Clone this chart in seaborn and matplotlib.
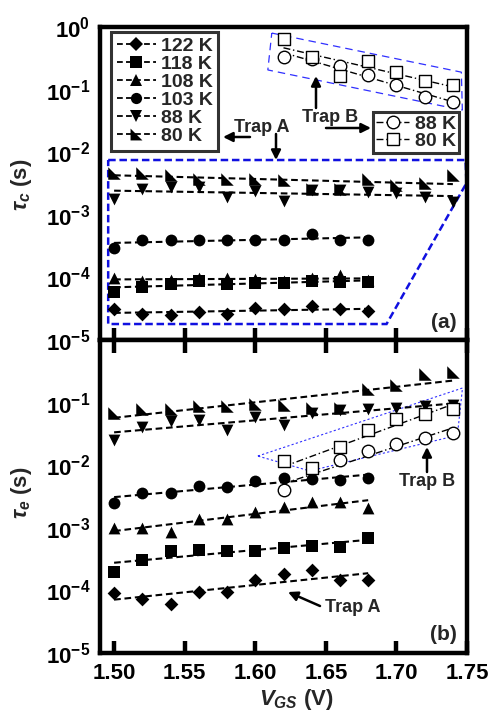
import numpy as np
import pandas as pd
import seaborn as sns
import matplotlib
matplotlib.use("Agg")
import matplotlib.pyplot as plt
from matplotlib.lines import Line2D
from matplotlib.patches import Polygon
from matplotlib.markers import MarkerStyle
from matplotlib.ticker import FixedLocator, NullLocator
from matplotlib.font_manager import FontProperties

# ---------------- data ----------------
vgs_short = [1.50, 1.52, 1.54, 1.56, 1.58, 1.60, 1.62, 1.64, 1.66, 1.68]
vgs_long = [1.50, 1.52, 1.54, 1.56, 1.58, 1.60, 1.62, 1.64, 1.66, 1.68, 1.70, 1.72, 1.74]
vgs_trapb = [1.62, 1.64, 1.66, 1.68, 1.70, 1.72, 1.74]
vgs_trapb_e88 = [1.62, 1.66, 1.68, 1.70, 1.72, 1.74]

# (a) capture time constants, trap A
tc_122 = [3.1e-5, 2.6e-5, 2.5e-5, 2.8e-5, 2.6e-5, 3.2e-5, 3.1e-5, 3.45e-5, 3.1e-5, 2.9e-5]
tc_118 = [5.9e-5, 7.1e-5, 7.8e-5, 8.9e-5, 7.8e-5, 8.2e-5, 8.2e-5, 8.7e-5, 8.5e-5, 8.3e-5]
tc_108 = [9.8e-5, 8.9e-5, 9.0e-5, 9.7e-5, 9.7e-5, 9.4e-5, 8.7e-5, 9.7e-5, 1.09e-4, 9.0e-5]
tc_103 = [2.9e-4, 3.96e-4, 4.0e-4, 4.0e-4, 4.0e-4, 4.0e-4, 4.0e-4, 4.9e-4, 4.0e-4, 3.9e-4]
tc_88 = [1.8e-3, 2.6e-3, 2.8e-3, 2.8e-3, 1.9e-3, 2.4e-3, 1.66e-3, 2.5e-3, 2.5e-3, 2.3e-3, 2.25e-3, 1.95e-3, 1.6e-3]
tc_80 = [4.7e-3, 4.6e-3, 4.3e-3, 3.8e-3, 3.8e-3, 3.8e-3, 3.6e-3, 2.6e-3, 2.6e-3, 3.8e-3, 3.0e-3, 3.2e-3, 4.3e-3]
# (a) trap B
tc_b88 = [0.33, 0.31, 0.24, 0.17, 0.117, 0.077, 0.064]
tc_b80 = [0.64, 0.33, 0.165, 0.29, 0.19, 0.138, 0.117]

# (b) emission time constants, trap A
te_122 = [9.2e-5, 7.2e-5, 6.0e-5, 9.5e-5, 9.5e-5, 1.47e-4, 1.8e-4, 2.1e-4, 1.47e-4, 1.47e-4]
te_118 = [1.99e-4, 3.06e-4, 4.3e-4, 4.5e-4, 4.3e-4, 4.3e-4, 4.7e-4, 5.1e-4, 5.0e-4, 6.8e-4]
te_108 = [9.8e-4, 9.8e-4, 8.7e-4, 1.36e-3, 1.4e-3, 1.8e-3, 2.17e-3, 2.6e-3, 2.6e-3, 2.1e-3]
te_103 = [2.46e-3, 3.64e-3, 3.6e-3, 4.7e-3, 4.5e-3, 5.5e-3, 6.2e-3, 6.0e-3, 5.7e-3, 6.3e-3]
te_88 = [0.0253, 0.041, 0.050, 0.053, 0.037, 0.058, 0.044, 0.067, 0.076, 0.078, 0.081, 0.088, 0.09]
te_80 = [0.067, 0.078, 0.078, 0.088, 0.087, 0.095, 0.092, 0.083, 0.083, 0.163, 0.19, 0.286, 0.305]
# (b) trap B
te_b88 = [0.0040, 0.0121, 0.0169, 0.0218, 0.0269, 0.033]
te_b80 = [0.0117, 0.0089, 0.0198, 0.037, 0.054, 0.066, 0.078]

labels_a = ["122 K", "118 K", "108 K", "103 K", "88 K", "80 K"]
labels_b = ["88 K", "80 K"]
ytick_vals = [1e-5, 1e-4, 1e-3, 1e-2, 1e-1, 1e0]
xtick_vals = [1.50, 1.55, 1.60, 1.65, 1.70, 1.75]
xtick_labels = ["1.50", "1.55", "1.60", "1.65", "1.70", "1.75"]

# ---------------- style ----------------
sns.set_theme(style="white")
plt.rcParams.update({
    "font.family": ["Liberation Sans", "DejaVu Sans"],
    "font.weight": "bold",
    "mathtext.fontset": "custom",
    "mathtext.rm": "Liberation Sans:bold",
    "mathtext.bf": "Liberation Sans:bold",
    "mathtext.it": "Liberation Sans:italic:bold",
    "axes.linewidth": 3.2,
    "axes.edgecolor": "black",
})

W, H = 493, 719
fig = plt.figure(figsize=(W / 100, H / 100), dpi=100)


def fx(px):
    return px / W


def fy(py):
    return 1 - py / H


left, right = 100, 467
ax_a = fig.add_axes([fx(left), fy(340), fx(right) - fx(left), fy(27) - fy(340)])
ax_b = fig.add_axes([fx(left), fy(653), fx(right) - fx(left), fy(340) - fy(653)])

tri_path = MarkerStyle([(-1, 1), (-1, -1), (1, -1), (-1, 1)])
mk = {"122 K": "D", "118 K": "s", "108 K": "^", "103 K": "o", "88 K": "v", "80 K": tri_path}
msz = {"122 K": 7, "118 K": 8.5, "108 K": 8.5, "103 K": 8.5, "88 K": 8.5, "80 K": 9}
dash = (0, (3.2, 1.8))
dashdot = (0, (5, 2, 1, 2))


def fit_line(ax, x, y, ls, lw):
    p = np.polyfit(np.array(x), np.log10(np.array(y)), 1)
    xx = np.array([x[0], x[-1]])
    yy = 10 ** np.polyval(p, xx)
    sns.lineplot(x=xx, y=yy, ax=ax, color="black", lw=lw, linestyle=ls, zorder=2,
                 estimator=None, sort=False)


def filled(ax, x, y, key):
    sns.scatterplot(x=x, y=y, ax=ax, marker=mk[key], s=msz[key] ** 2, color="black",
                    edgecolor="black", linewidth=0, zorder=4, legend=False)


def opened(ax, x, y, marker):
    sns.scatterplot(x=x, y=y, ax=ax, marker=marker, s=9 ** 2, facecolor="white",
                    edgecolor="black", linewidth=1.0, zorder=5, legend=False)


for ax in (ax_a, ax_b):
    ax.set_yscale("log")

series_a = [(vgs_short, tc_122, "122 K"), (vgs_short, tc_118, "118 K"), (vgs_short, tc_108, "108 K"),
            (vgs_short, tc_103, "103 K"), (vgs_long, tc_88, "88 K"), (vgs_long, tc_80, "80 K")]
series_b = [(vgs_short, te_122, "122 K"), (vgs_short, te_118, "118 K"), (vgs_short, te_108, "108 K"),
            (vgs_short, te_103, "103 K"), (vgs_long, te_88, "88 K"), (vgs_long, te_80, "80 K")]

for ax, series in ((ax_a, series_a), (ax_b, series_b)):
    for x, y, key in series:
        fit_line(ax, x, y, dash, 1.5)
        filled(ax, x, y, key)

# trap B
fit_line(ax_a, vgs_trapb, tc_b88, dashdot, 1.0)
fit_line(ax_a, vgs_trapb, tc_b80, dashdot, 1.0)
opened(ax_a, vgs_trapb, tc_b88, "o")
opened(ax_a, vgs_trapb, tc_b80, "s")
fit_line(ax_b, vgs_trapb_e88, te_b88, dashdot, 1.0)
fit_line(ax_b, vgs_trapb, te_b80, dashdot, 1.0)
opened(ax_b, vgs_trapb_e88, te_b88, "o")
opened(ax_b, vgs_trapb, te_b80, "s")

# blue regions
polyA = Polygon([(1.4958, 7.5e-3), (1.749, 7.5e-3), (1.7496, 3.2e-3), (1.693, 1.8e-5), (1.4958, 1.8e-5)],
                closed=True, fill=False, edgecolor="#1010e0", lw=1.8, linestyle=(0, (3, 1.5)), zorder=1)
ax_a.add_patch(polyA)
polyBa = Polygon([(1.6117, 0.80), (1.746, 0.19), (1.7467, 0.047), (1.6089, 0.206)],
                 closed=True, fill=False, edgecolor="#3030ff", lw=0.9, linestyle=(0, (6, 4)), zorder=1)
ax_a.add_patch(polyBa)
polyBb = Polygon([(1.6018, 0.014), (1.7468, 0.171), (1.7432, 0.030), (1.6386, 0.0081)],
                 closed=True, fill=False, edgecolor="#3030ff", lw=0.8, linestyle=(0, (2, 2)), zorder=1)
ax_b.add_patch(polyBb)

# axes formatting
for ax in (ax_a, ax_b):
    ax.set_xlim(1.49, 1.75)
    ax.set_ylim(1e-5, 1e0)
    ax.xaxis.set_major_locator(FixedLocator(xtick_vals))
    ax.yaxis.set_minor_locator(NullLocator())
    ax.xaxis.set_minor_locator(NullLocator())
    ax.set_xlabel("")
    ax.set_ylabel("")
    ax.tick_params(which="major", direction="in", length=9, width=3.2, labelsize=16, pad=7,
                   colors="black")
    for sp in ax.spines.values():
        sp.set_linewidth(3.2)
        sp.set_color("black")

ax_a.yaxis.set_major_locator(FixedLocator(ytick_vals))
ax_a.set_yticklabels([r"$\mathbf{10^{%d}}$" % int(np.log10(v)) for v in ytick_vals])
ax_a.tick_params(axis="x", bottom=True, top=False, labelbottom=False)
ax_b.yaxis.set_major_locator(FixedLocator(ytick_vals[:-1]))
ax_b.set_yticklabels([r"$\mathbf{10^{%d}}$" % int(np.log10(v)) for v in ytick_vals[:-1]])
ax_b.tick_params(axis="x", bottom=True, top=True, labelbottom=True, labeltop=False)
ax_b.set_xticklabels(xtick_labels)
for t in ax_a.get_yticklabels() + ax_b.get_yticklabels() + ax_b.get_xticklabels():
    t.set_fontweight("bold")

# legends
lp = FontProperties(family="Liberation Sans", weight="bold", size=14)
handles = [Line2D([], [], color="black", lw=1.3, linestyle=dash, marker=mk[k],
                  markersize=msz[k] * 0.95, markerfacecolor="black", markeredgewidth=0) for k in labels_a]
leg1 = ax_a.legend(handles, labels_a, loc="upper left", bbox_to_anchor=(0.03, 0.985),
                   borderaxespad=0, frameon=True, fancybox=False, edgecolor="black",
                   prop=lp, handlelength=2.0, handletextpad=0.25,
                   labelspacing=0.02, borderpad=0.3)
leg1.get_frame().set_linewidth(2.2)
ax_a.add_artist(leg1)

lp2 = FontProperties(family="Liberation Sans", weight="bold", size=14)
handles_b = [Line2D([], [], color="black", lw=1.0, linestyle=dashdot, marker=m, markersize=9,
                    markerfacecolor="white", markeredgecolor="black", markeredgewidth=1.0)
             for m in ("o", "s")]
leg2 = ax_a.legend(handles_b, labels_b, loc="upper left", bbox_to_anchor=(0.745, 0.728),
                   borderaxespad=0, frameon=True, fancybox=False, edgecolor="black",
                   prop=lp2, handlelength=1.7, handletextpad=0.3,
                   labelspacing=0.0, borderpad=0.15)
leg2.get_frame().set_linewidth(2.2)

# annotations (figure pixel positions)
arrow = dict(arrowstyle="-|>", lw=1.8, color="black", mutation_scale=14, shrinkA=0, shrinkB=0)


def arr(x0, y0, x1, y1):
    fig.add_artist(matplotlib.patches.FancyArrowPatch((fx(x0), fy(y0)), (fx(x1), fy(y1)),
                                                     transform=fig.transFigure, **arrow))


def txt(x, y, s, size=13, **kw):
    fig.text(fx(x), fy(y), s, ha="center", va="center", fontsize=size, fontweight="bold", **kw)


txt(262, 128, "Trap A")
arr(250, 137, 223, 137)
arr(276, 134, 276, 160)
txt(330, 118, "Trap B")
arr(316, 108, 316, 76)
arr(326, 128, 371, 128)
txt(427, 482, "Trap B")
arr(427, 472, 427, 447)
txt(353, 608, "Trap A")
arr(320, 606, 288, 592)

txt(444, 322, "(a)", size=15)
txt(443, 634, "(b)", size=15)

fig.text(fx(22), fy(185), r"$\tau_{c}$ (s)", rotation=90, ha="center", va="center",
         fontsize=16, fontweight="bold")
fig.text(fx(22), fy(493), r"$\tau_{e}$ (s)", rotation=90, ha="center", va="center",
         fontsize=16, fontweight="bold")
fig.text(fx(296), fy(700), r"$V_{GS}$ (V)", ha="center", va="center", fontsize=16,
         fontweight="bold")

fig.savefig("out.png", dpi=100)
